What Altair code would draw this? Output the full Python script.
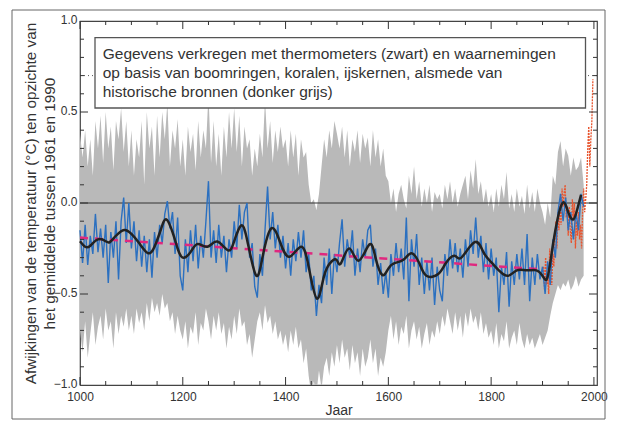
import altair as alt
import pandas as pd

# ---------------- data ----------------
blue_years = list(range(1000, 1981, 5))
blue_vals = [
    -0.15, -0.33, -0.12, -0.34, -0.18, -0.28, -0.06, -0.27, -0.14, -0.30,
    -0.12, -0.44, -0.16, -0.30, -0.10, -0.42, -0.10, 0.03, -0.22, 0.00,
    -0.25, -0.10, -0.32, -0.15, -0.35, -0.18, -0.38, -0.20, -0.41, -0.16,
    -0.30, -0.12, -0.22, -0.06, 0.01, -0.14, -0.05, -0.28, -0.08, -0.40,
    -0.48, -0.20, -0.38, -0.15, -0.32, -0.12, -0.36, -0.18, -0.30, -0.10,
    0.12, -0.30, -0.15, -0.33, -0.12, -0.30, -0.18, -0.38, -0.20, -0.30,
    -0.10, -0.25, -0.01, -0.20, -0.05, 0.00, -0.30, -0.22, -0.46, -0.52,
    -0.28, -0.40, -0.15, 0.09, -0.20, -0.05, -0.25, -0.12, -0.30, -0.18,
    -0.36, -0.22, -0.40, -0.20, -0.32, -0.16, -0.30, -0.15, -0.38, -0.28,
    -0.48, -0.40, -0.62, -0.45, -0.55, -0.30, -0.45, -0.25, -0.50, -0.28,
    -0.38, -0.22, -0.09, -0.35, -0.20, -0.30, -0.15, -0.40, -0.25, -0.38,
    -0.20, -0.30, -0.15, -0.12, -0.35, -0.25, -0.45, -0.33, -0.50, -0.38,
    -0.52, -0.28, -0.40, -0.22, -0.38, -0.25, -0.42, -0.08, -0.54, -0.20,
    -0.35, -0.17, -0.45, -0.30, -0.50, -0.32, -0.48, -0.30, -0.56, -0.35,
    -0.48, -0.54, -0.28, -0.40, -0.20, -0.36, -0.22, -0.38, -0.25, -0.41,
    -0.20, -0.35, -0.15, -0.28, -0.08, -0.30, -0.18, -0.38, -0.22, -0.42,
    -0.25, -0.40, -0.30, -0.60, -0.35, -0.45, -0.27, -0.57, -0.32, -0.45,
    -0.28, -0.42, -0.25, -0.45, -0.17, -0.54, -0.30, -0.45, -0.28, -0.42,
    -0.35, -0.50, -0.32, -0.45, -0.20, -0.30, -0.05, 0.05, -0.10, 0.03,
    -0.15, -0.05, -0.20, -0.05, -0.15, 0.05, -0.02,
]
grey_upper = [
    0.38, 0.25, 0.40, 0.20, 0.35, 0.15, 0.45, 0.30, 0.48, 0.22,
    0.50, 0.30, 0.42, 0.18, 0.45, 0.35, 0.52, 0.28, 0.45, 0.20,
    0.40, 0.15, 0.35, 0.25, 0.45, 0.10, 0.50, 0.30, 0.42, 0.15,
    0.48, 0.25, 0.50, 0.35, 0.55, 0.20, 0.40, 0.30, 0.46, 0.20,
    0.35, 0.15, 0.42, 0.28, 0.38, 0.18, 0.45, 0.25, 0.40, 0.30,
    0.60, 0.22, 0.45, 0.20, 0.38, 0.15, 0.42, 0.25, 0.50, 0.30,
    0.52, 0.28, 0.48, 0.20, 0.42, 0.30, 0.35, 0.15, 0.30, 0.20,
    0.38, 0.25, 0.57, 0.30, 0.45, 0.22, 0.40, 0.28, 0.42, 0.30,
    0.35, 0.20, 0.40, 0.25, 0.38, 0.15, 0.35, 0.25, 0.28, 0.10,
    0.00, 0.02, -0.04, 0.05, 0.20, 0.35, 0.25, 0.40, 0.30, 0.45,
    0.38, 0.30, 0.42, 0.25, 0.40, 0.20, 0.35, 0.28, 0.40, 0.22,
    0.38, 0.30, 0.36, 0.20, 0.40, 0.25, 0.35, 0.20, 0.30, 0.15,
    0.12, 0.00, 0.08, -0.05, 0.05, 0.10, 0.02, -0.03, 0.15, 0.05,
    0.20, 0.02, 0.12, -0.02, 0.08, 0.00, 0.10, -0.05, 0.06, 0.02,
    0.05, -0.03, 0.10, 0.02, 0.12, 0.00, 0.08, -0.02, 0.05, 0.10,
    0.15, 0.02, 0.18, 0.08, 0.24, 0.05, 0.12, 0.00, 0.08, -0.02,
    0.05, -0.05, 0.08, -0.02, 0.10, 0.02, 0.17, -0.03, 0.05, -0.05,
    0.08, -0.02, 0.04, -0.06, 0.10, -0.03, 0.06, -0.05, 0.08, 0.00,
    -0.05, -0.12, 0.00, -0.08, 0.15, 0.10, 0.28, 0.34, 0.20, 0.30,
    0.26, 0.15, 0.25, 0.18, 0.20, 0.25, 0.10,
]
grey_lower = [
    -0.70, -0.82, -0.65, -0.85, -0.72, -0.60, -0.78, -0.68, -0.62, -0.75,
    -0.58, -0.70, -0.65, -0.80, -0.60, -0.72, -0.62, -0.68, -0.58, -0.70,
    -0.62, -0.72, -0.58, -0.66, -0.60, -0.70, -0.55, -0.65, -0.52, -0.60,
    -0.55, -0.62, -0.50, -0.58, -0.55, -0.65, -0.60, -0.72, -0.62, -0.70,
    -0.75, -0.65, -0.80, -0.68, -0.72, -0.60, -0.78, -0.66, -0.70, -0.58,
    -0.65, -0.75, -0.62, -0.70, -0.60, -0.72, -0.66, -0.80, -0.68, -0.75,
    -0.62, -0.72, -0.58, -0.68, -0.65, -0.78, -0.72, -0.85, -0.75, -0.65,
    -0.60, -0.70, -0.56, -0.66, -0.62, -0.72, -0.65, -0.75, -0.70, -0.78,
    -0.72, -0.82, -0.70, -0.78, -0.68, -0.80, -0.75, -0.88, -0.80, -0.95,
    -1.05, -0.98, -1.05, -0.92, -1.02, -0.90, -0.85, -0.95, -0.82, -0.90,
    -0.78, -0.88, -0.75, -0.85, -0.80, -0.92, -0.78, -0.88, -0.82, -0.95,
    -0.80, -0.90, -0.85, -0.75, -0.88, -0.80, -0.95, -0.85, -0.90, -0.82,
    -0.70, -0.62, -0.75, -0.65, -0.78, -0.68, -0.72, -0.62, -0.80, -0.70,
    -0.65, -0.75, -0.68, -0.80, -0.72, -0.66, -0.78, -0.70, -0.74, -0.65,
    -0.72, -0.62, -0.68, -0.58, -0.65, -0.72, -0.60, -0.70, -0.62, -0.74,
    -0.60, -0.68, -0.58, -0.66, -0.62, -0.70, -0.60, -0.72, -0.66, -0.74,
    -0.70, -0.78, -0.66, -0.80, -0.72, -0.76, -0.65, -0.80, -0.74, -0.70,
    -0.78, -0.66, -0.75, -0.80, -0.72, -0.78, -0.74, -0.80, -0.76, -0.72,
    -0.78, -0.74, -0.70, -0.62, -0.55, -0.50, -0.45, -0.48, -0.44, -0.46,
    -0.42, -0.48, -0.45, -0.40, -0.46, -0.42, -0.40,
]
black_years = [1000, 1010, 1020, 1035, 1050, 1058, 1070, 1086, 1100, 1115,
               1132, 1145, 1158, 1168, 1180, 1190, 1200, 1215, 1229, 1248,
               1267, 1288, 1300, 1313, 1325, 1342, 1355, 1372, 1390, 1408,
               1430, 1445, 1461, 1475, 1490, 1500, 1508, 1524, 1542, 1563,
               1575, 1588, 1600, 1612, 1630, 1645, 1660, 1674, 1697, 1712,
               1729, 1742, 1768, 1785, 1800, 1815, 1833, 1850, 1869, 1888,
               1900, 1908, 1915, 1925, 1939, 1950, 1960, 1968, 1975]
black_vals = [-0.21, -0.24, -0.235, -0.20, -0.21, -0.215, -0.18, -0.148, -0.17, -0.22,
              -0.275, -0.24, -0.14, -0.09, -0.16, -0.25, -0.30, -0.27, -0.225, -0.24,
              -0.212, -0.26, -0.21, -0.125, -0.20, -0.395, -0.30, -0.14, -0.22, -0.295,
              -0.24, -0.35, -0.525, -0.40, -0.32, -0.315, -0.33, -0.25, -0.317, -0.228,
              -0.30, -0.395, -0.36, -0.33, -0.31, -0.276, -0.33, -0.40, -0.39, -0.33,
              -0.29, -0.30, -0.215, -0.27, -0.325, -0.37, -0.40, -0.37, -0.37, -0.37,
              -0.40, -0.42, -0.33, -0.15, 0.0, -0.05, -0.09, -0.03, 0.045]
red_years = list(range(1902, 1999, 2))
red_vals = [-0.35, -0.48, -0.30, -0.45, -0.40, -0.50, -0.25, -0.38, -0.45, -0.28,
            -0.35, -0.22, -0.10, -0.25, -0.05, -0.15, 0.02, -0.12, 0.08, -0.02,
            0.05, 0.10, -0.08, -0.02, -0.18, -0.02, -0.15, -0.22, 0.02, -0.08,
            0.00, -0.25, -0.10, -0.18, -0.05, -0.20, -0.12, -0.25, -0.05, 0.08,
            -0.05, 0.02, 0.10, 0.30, 0.42, 0.20, 0.35, 0.45, 0.68]
trend_years = [1000, 1900]
trend_vals = [-0.19, -0.365]
ref_level = [0.7]
x_label_vals = [1000, 1200, 1400, 1600, 1800, 2000]
y_label_vals = [-1.0, -0.5, 0.0, 0.5, 1.0]
x_major_ticks = [1000, 1200, 1400, 1600, 1800, 2000]
x_minor_ticks = [1050, 1100, 1150, 1250, 1300, 1350, 1450, 1500, 1550,
                 1650, 1700, 1750, 1850, 1900, 1950]
y_major_ticks = [-0.5, 0.0, 0.5]
y_minor_ticks = [-0.9, -0.8, -0.7, -0.6, -0.4, -0.3, -0.2, -0.1,
                 0.1, 0.2, 0.3, 0.4, 0.6, 0.7, 0.8, 0.9]
box_lines = [
    "Gegevens verkregen met thermometers (zwart) en waarnemingen",
    "op basis van boomringen, koralen, ijskernen, alsmede van",
    "historische bronnen (donker grijs)",
]
x_title = "Jaar"
y_title = ["Afwijkingen van de temperatuur (°C) ten opzichte van",
           "het gemiddelde tussen 1961 en 1990"]

# ---------------- chart ----------------
W, H = 517, 364
FONT = "Liberation Sans"
TXT = "#333333"

xs = alt.Scale(domain=[1000, 2006], nice=False, zero=False)
ys = alt.Scale(domain=[-1.0, 1.0], nice=False, zero=False)
x_axis = alt.Axis(values=x_label_vals, format="d", tickSize=0, domain=False, grid=False,
                  labelFontSize=12, labelColor=TXT, labelPadding=6, labelFont=FONT,
                  labelFlush=False, labelOverlap=False,
                  title=x_title, titleFontSize=14, titleFontWeight="normal",
                  titleColor=TXT, titleFont=FONT, titlePadding=1)
y_axis = alt.Axis(values=y_label_vals, format=".1f", tickSize=0, domain=False, grid=False,
                  labelFontSize=12, labelColor=TXT, labelPadding=3, labelFont=FONT,
                  labelFlush=False, labelOverlap=False, labelOffset=-2,
                  title=y_title, titleFontSize=15.3, titleFontWeight="normal",
                  titleColor=TXT, titleFont=FONT, titlePadding=-4, titleLineHeight=19)


def X(f="year"):
    return alt.X(f"{f}:Q", scale=xs, axis=x_axis)


def Y(f="v"):
    return alt.Y(f"{f}:Q", scale=ys, axis=y_axis)


grey_df = pd.DataFrame({"year": blue_years, "v": grey_upper, "v2": grey_lower})
blue_df = pd.DataFrame({"year": blue_years, "v": blue_vals})
black_df = pd.DataFrame({"year": black_years, "v": black_vals})
red_df = pd.DataFrame({"year": red_years, "v": red_vals})
trend_df = pd.DataFrame({"year": trend_years, "v": trend_vals})

grey = alt.Chart(grey_df).mark_area(color="#b9b9b9", clip=True, opacity=1).encode(
    x=X(), y=Y(), y2="v2:Q")
ref = alt.Chart(pd.DataFrame({"v": ref_level})).mark_rule(
    color="#555555", strokeDash=[1, 3], strokeWidth=1).encode(
    y=Y(), x=alt.value(0), x2=alt.value(W))
zero = alt.Chart(pd.DataFrame({"v": [0.0]})).mark_rule(
    color="#333333", strokeWidth=1).encode(y=Y(), x=alt.value(0), x2=alt.value(W))
red = alt.Chart(red_df).mark_line(color="#e8552f", strokeWidth=1.3, strokeDash=[2, 1]).encode(
    x=X(), y=Y())
blue = alt.Chart(blue_df).mark_line(color="#2b70c0", strokeWidth=1.4).encode(x=X(), y=Y())
trend = alt.Chart(trend_df).mark_line(color="#e0287f", strokeWidth=2.5,
                                      strokeDash=[8, 7]).encode(x=X(), y=Y())
black = alt.Chart(black_df).mark_line(color="#222222", strokeWidth=2.5,
                                      interpolate="natural").encode(x=X(), y=Y())

one = pd.DataFrame({"t": ["\n".join(box_lines)]})
box = alt.Chart(one).mark_rect(fill="white", stroke="#555555", strokeWidth=1.3).encode(
    x=alt.value(15), x2=alt.value(505.5), y=alt.value(16.7), y2=alt.value(87))
box_text = alt.Chart(one).mark_text(align="left", baseline="top", font=FONT, fontSize=15.5,
                                    color=TXT, lineBreak="\n", lineHeight=19.3).encode(
    x=alt.value(22.7), y=alt.value(25.5), text="t:N")

TICK = "#333333"


def xticks(vals, length):
    d = pd.DataFrame({"year": vals})
    bottom = alt.Chart(d).mark_rule(color=TICK, strokeWidth=1).encode(
        x=X(), y=alt.value(H), y2=alt.value(H - length))
    top = alt.Chart(d).mark_rule(color=TICK, strokeWidth=1).encode(
        x=X(), y=alt.value(0), y2=alt.value(length))
    return [bottom, top]


def yticks(vals, length):
    d = pd.DataFrame({"v": vals})
    left = alt.Chart(d).mark_rule(color=TICK, strokeWidth=1).encode(
        y=Y(), x=alt.value(0), x2=alt.value(length))
    right = alt.Chart(d).mark_rule(color=TICK, strokeWidth=1).encode(
        y=Y(), x=alt.value(W), x2=alt.value(W - length))
    return [left, right]


frame = alt.Chart(one).mark_rect(fill=None, filled=False, stroke="#666666", strokeWidth=1).encode(
    x=alt.value(-68), x2=alt.value(525), y=alt.value(-11), y2=alt.value(398))

layers = [grey, ref, zero, red, blue, trend, black, box, box_text]
layers += xticks(x_major_ticks, 8) + xticks(x_minor_ticks, 4)
layers += yticks(y_major_ticks, 8) + yticks(y_minor_ticks, 4)
layers += [frame]

chart = alt.layer(*layers).properties(
    width=W, height=H, autosize="none",
    padding={"left": 80, "top": 21, "right": 22, "bottom": 36},
    background="white",
).configure_view(stroke="#444444", strokeWidth=1.2)

chart.save("out.html", embed_options={"renderer": "svg", "actions": False})
